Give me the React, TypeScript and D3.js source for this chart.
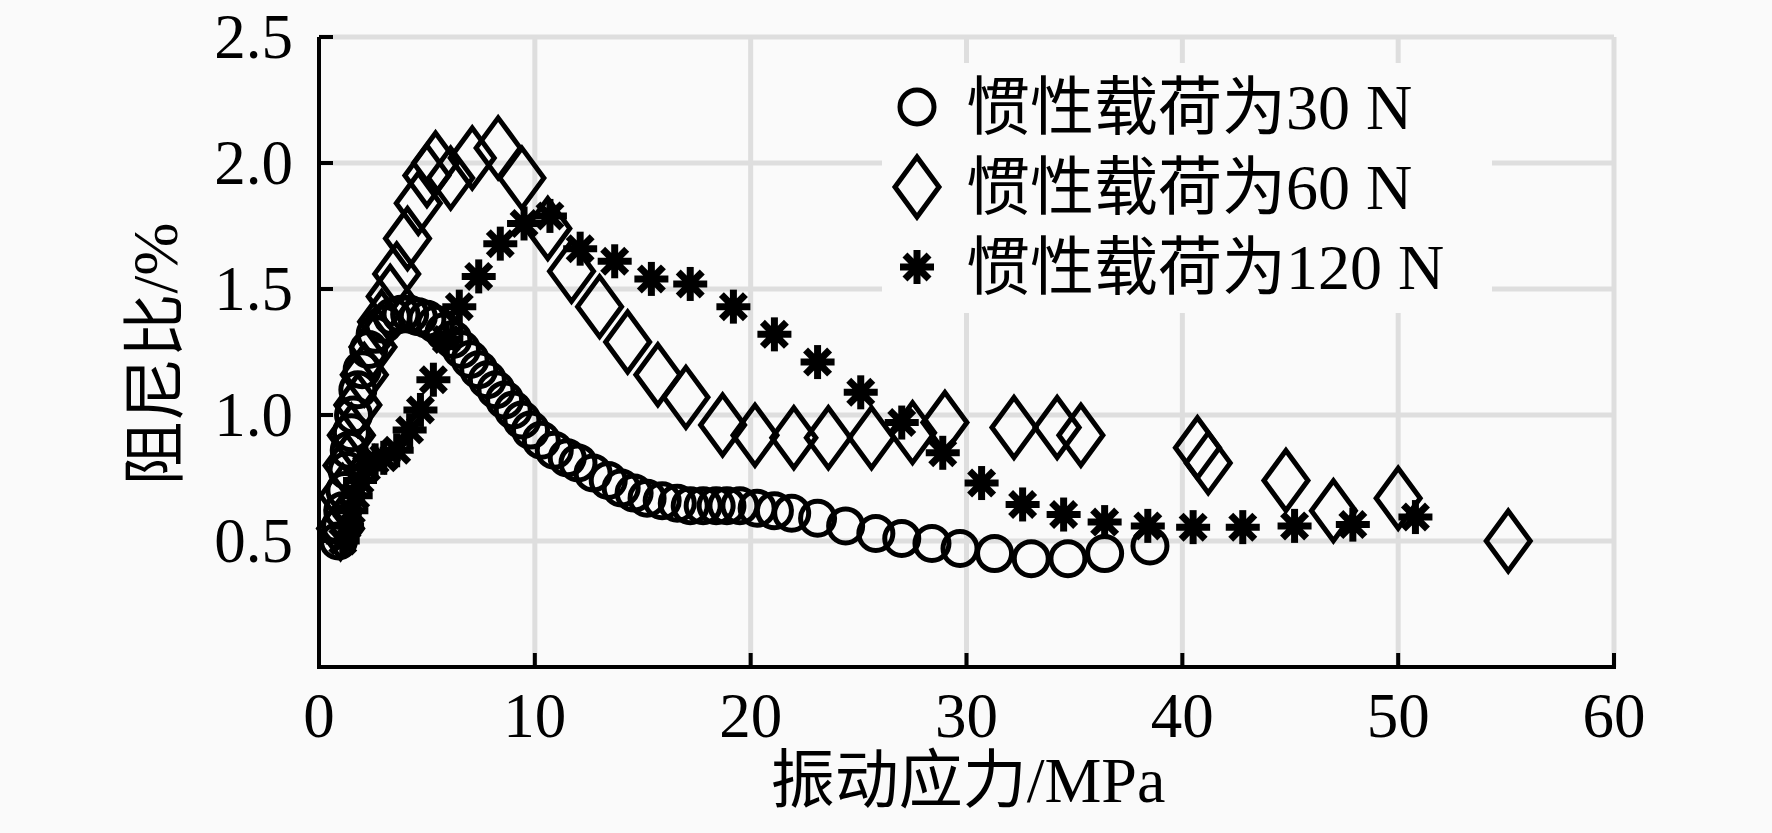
import React from "react";
import * as d3 from "d3";

// 惯性载荷为30 N
const stress30 = [0.9, 1.0, 1.1, 1.2, 1.3, 1.4, 1.5, 1.6, 1.8, 2.0, 2.3, 2.6, 3.0, 3.4, 3.8, 4.2, 4.6, 5.0, 5.4, 5.8, 6.2, 6.6, 7.0, 7.4, 7.8, 8.2, 8.6, 9.0, 9.4, 9.8, 10.3, 10.9, 11.5, 12.0, 12.7, 13.4, 14.0, 14.6, 15.2, 15.9, 16.6, 17.2, 17.8, 18.4, 18.9, 19.5, 20.3, 21.1, 21.9, 23.1, 24.4, 25.8, 27.0, 28.4, 29.7, 31.3, 33.0, 34.7, 36.4, 38.5];
const damping30 = [0.50, 0.56, 0.62, 0.70, 0.78, 0.86, 0.93, 1.00, 1.10, 1.18, 1.26, 1.32, 1.36, 1.39, 1.40, 1.40, 1.39, 1.38, 1.36, 1.33, 1.30, 1.26, 1.22, 1.18, 1.14, 1.10, 1.06, 1.02, 0.98, 0.94, 0.90, 0.86, 0.83, 0.81, 0.77, 0.74, 0.71, 0.69, 0.67, 0.66, 0.65, 0.64, 0.64, 0.64, 0.64, 0.64, 0.63, 0.62, 0.61, 0.59, 0.56, 0.53, 0.51, 0.49, 0.47, 0.45, 0.43, 0.43, 0.45, 0.48];

// 惯性载荷为60 N
const stress60 = [1.0, 1.1, 1.3, 1.5, 1.8, 2.1, 2.5, 2.9, 3.3, 3.6, 4.1, 4.6, 5.0, 5.4, 6.1, 7.1, 8.3, 9.4, 10.6, 11.7, 13.0, 14.3, 15.7, 17.0, 18.7, 20.2, 22.0, 23.6, 25.6, 27.5, 29.0, 32.2, 34.2, 35.3, 40.7, 41.2, 44.8, 47.0, 50.0, 55.1];
const damping60 = [0.55, 0.68, 0.80, 0.92, 1.04, 1.16, 1.27, 1.37, 1.47, 1.56, 1.70, 1.84, 1.95, 2.00, 1.94, 2.02, 2.06, 1.94, 1.74, 1.57, 1.43, 1.29, 1.16, 1.07, 0.96, 0.92, 0.91, 0.91, 0.91, 0.93, 0.97, 0.95, 0.95, 0.92, 0.87, 0.81, 0.74, 0.62, 0.67, 0.50];

// 惯性载荷为120 N
const stress120 = [1.1, 1.3, 1.5, 1.7, 1.9, 2.2, 2.6, 3.0, 3.6, 4.2, 4.7, 5.3, 5.9, 6.5, 7.4, 8.4, 9.5, 10.7, 12.1, 13.7, 15.4, 17.2, 19.2, 21.1, 23.1, 25.1, 27.0, 28.9, 30.7, 32.6, 34.5, 36.4, 38.4, 40.5, 42.8, 45.2, 47.9, 50.8];
const damping120 = [0.50, 0.56, 0.62, 0.68, 0.74, 0.79, 0.82, 0.83, 0.86, 0.94, 1.02, 1.14, 1.30, 1.43, 1.55, 1.68, 1.76, 1.79, 1.66, 1.61, 1.54, 1.52, 1.43, 1.32, 1.21, 1.09, 0.97, 0.85, 0.73, 0.645, 0.605, 0.575, 0.56, 0.555, 0.555, 0.56, 0.565, 0.595];

const xTicks = [0, 10, 20, 30, 40, 50, 60];
const yTicks = [0.5, 1.0, 1.5, 2.0, 2.5];
const legendLabels = ["惯性载荷为30 N", "惯性载荷为60 N", "惯性载荷为120 N"];

const W = 1772;
const H = 833;
const BG = "#fafafa";
const FONT = "'Liberation Serif', 'Times New Roman', 'Noto Sans CJK SC', serif";

const x = d3.scaleLinear().domain([0, 60]).range([319, 1614]);
const y = d3.scaleLinear().domain([0, 2.5]).range([667, 37]);

const zip = (xs: number[], ys: number[]) => xs.map((v, i) => ({ x: v, y: ys[i] }));

const Circle = ({ cx, cy }: { cx: number; cy: number }) => (
  <circle cx={cx} cy={cy} r={17} fill="none" stroke="#000" strokeWidth={5} />
);

const Diamond = ({ cx, cy }: { cx: number; cy: number }) => (
  <path
    d={`M${cx},${cy - 30}L${cx + 22},${cy}L${cx},${cy + 30}L${cx - 22},${cy}Z`}
    fill="none"
    stroke="#000"
    strokeWidth={5}
    strokeLinejoin="miter"
  />
);

const Star = ({ cx, cy }: { cx: number; cy: number }) => {
  const r = 17;
  return (
    <g>
      {[0, 45, 90, 135].map((a) => {
        const t = (a * Math.PI) / 180;
        return (
          <line
            key={a}
            x1={cx - r * Math.cos(t)}
            y1={cy - r * Math.sin(t)}
            x2={cx + r * Math.cos(t)}
            y2={cy + r * Math.sin(t)}
            stroke="#000"
            strokeWidth={7}
          />
        );
      })}
      <circle cx={cx} cy={cy} r={9} fill="#000" />
    </g>
  );
};

const markers = [Circle, Diamond, Star];

export default function App() {
  const series = [zip(stress30, damping30), zip(stress60, damping60), zip(stress120, damping120)];
  const [x0, x1] = x.range();
  const [y0, y1] = y.range();

  return (
    <svg
      width={W}
      height={H}
      style={{ position: "absolute", left: 0, top: 0, background: BG }}
      fontFamily={FONT}
    >
      <rect width={W} height={H} fill={BG} />

      {/* grid */}
      <g stroke="#dedede" strokeWidth={5}>
        {yTicks.map((t) => (
          <line key={"gy" + t} x1={x0} x2={x1} y1={y(t)} y2={y(t)} />
        ))}
        {xTicks.slice(1).map((t) => (
          <line key={"gx" + t} x1={x(t)} x2={x(t)} y1={y0} y2={y1} />
        ))}
      </g>

      {/* legend box hides the grid */}
      <rect x={882} y={63} width={610} height={250} fill={BG} />

      {/* axes */}
      <g stroke="#000" strokeWidth={4}>
        <line x1={x0 - 2} x2={x1 + 2} y1={y0} y2={y0} />
        <line x1={x0} x2={x0} y1={y0 + 2} y2={y1} />
        {xTicks.slice(1).map((t) => (
          <line key={"tx" + t} x1={x(t)} x2={x(t)} y1={y0} y2={y0 - 14} />
        ))}
        {yTicks.map((t) => (
          <line key={"ty" + t} x1={x0} x2={x0 + 14} y1={y(t)} y2={y(t)} />
        ))}
      </g>

      <g fontSize={63} fill="#000">
        {xTicks.map((t) => (
          <text key={"lx" + t} x={x(t)} y={737} textAnchor="middle">
            {t}
          </text>
        ))}
        {yTicks.map((t) => (
          <text key={"ly" + t} x={293} y={y(t)} textAnchor="end" dominantBaseline="central">
            {t.toFixed(1)}
          </text>
        ))}
      </g>

      <text x={968} y={780} fontSize={64} textAnchor="middle" dominantBaseline="central">
        振动应力/MPa
      </text>
      <text
        transform={`translate(155,354) rotate(-90)`}
        fontSize={64}
        textAnchor="middle"
        dominantBaseline="central"
      >
        阻尼比/%
      </text>

      {/* data */}
      {series.map((pts, si) => {
        const M = markers[si];
        return (
          <g key={"s" + si}>
            {pts.map((p, i) => (
              <M key={i} cx={x(p.x)} cy={y(p.y)} />
            ))}
          </g>
        );
      })}

      {/* legend */}
      {legendLabels.map((label, i) => {
        const M = markers[i];
        const cy = 107 + i * 80;
        return (
          <g key={"lg" + i}>
            <M cx={917} cy={cy} />
            <text x={966} y={cy} fontSize={64} dominantBaseline="central">
              {label}
            </text>
          </g>
        );
      })}
    </svg>
  );
}
